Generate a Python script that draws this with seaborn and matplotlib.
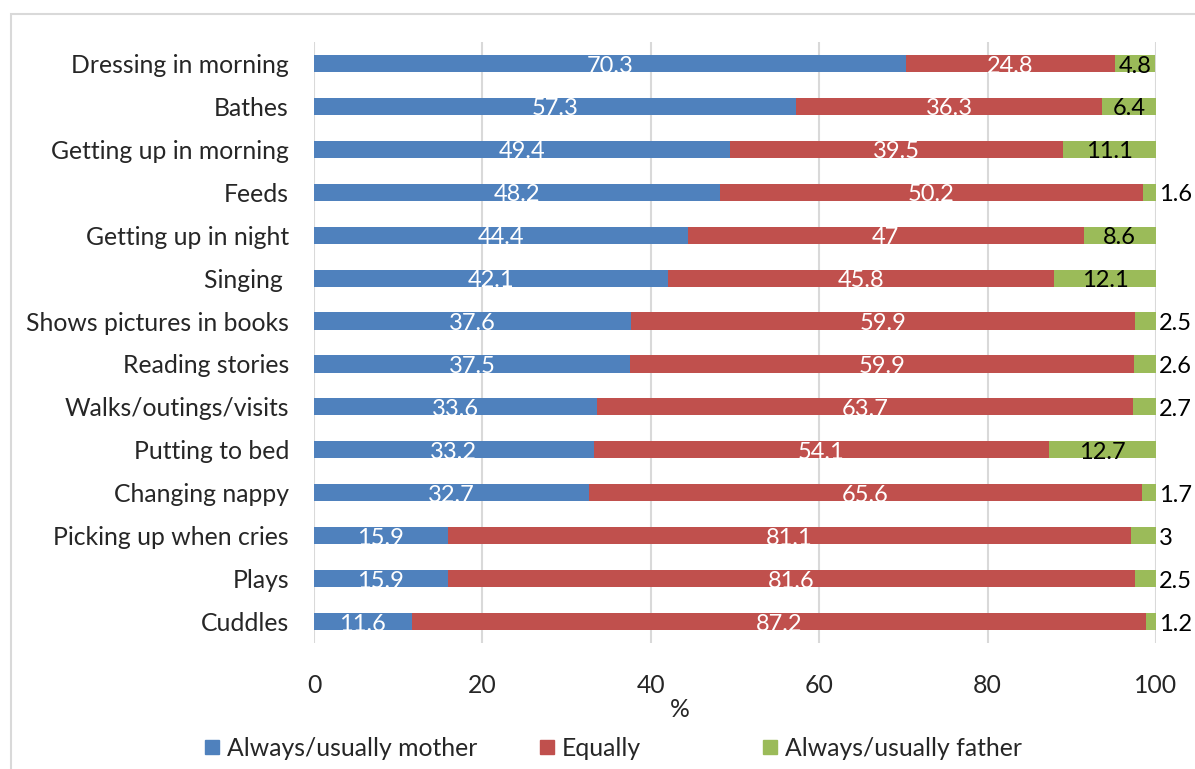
import matplotlib
matplotlib.use("Agg")
import matplotlib.pyplot as plt
from matplotlib.patches import Rectangle
from matplotlib.lines import Line2D
import seaborn as sns
import pandas as pd
import numpy as np

activities = ["Dressing in morning", "Bathes", "Getting up in morning", "Feeds",
              "Getting up in night", "Singing ", "Shows pictures in books",
              "Reading stories", "Walks/outings/visits", "Putting to bed",
              "Changing nappy", "Picking up when cries", "Plays", "Cuddles"]
mother = [70.3, 57.3, 49.4, 48.2, 44.4, 42.1, 37.6, 37.5, 33.6, 33.2, 32.7, 15.9, 15.9, 11.6]
equally = [24.8, 36.3, 39.5, 50.2, 47, 45.8, 59.9, 59.9, 63.7, 54.1, 65.6, 81.1, 81.6, 87.2]
father = [4.8, 6.4, 11.1, 1.6, 8.6, 12.1, 2.5, 2.6, 2.7, 12.7, 1.7, 3, 2.5, 1.2]
series_names = ["Always/usually mother", "Equally", "Always/usually father"]
xticks = [0, 20, 40, 60, 80, 100]

c_m, c_e, c_f = "#4F81BD", "#C0504D", "#9BBB59"

sns.set_theme(style="white")
plt.rcParams["font.family"] = ["Lato", "DejaVu Sans"]

df = pd.DataFrame({"activity": activities, "mother": mother,
                   "equally": equally, "father": father})
df["cum_e"] = df["mother"] + df["equally"]
df["cum_f"] = df["cum_e"] + df["father"]

fig = plt.figure(figsize=(11.95, 7.69), dpi=100)
ax = fig.add_axes([314/1195, 1-643/769, (1156-314)/1195, (643-42)/769])

bw = 0.4
sns.barplot(data=df, y="activity", x="cum_f", color=c_f, width=bw, ax=ax,
            orient="h", saturation=1, order=activities)
sns.barplot(data=df, y="activity", x="cum_e", color=c_e, width=bw, ax=ax,
            orient="h", saturation=1, order=activities)
sns.barplot(data=df, y="activity", x="mother", color=c_m, width=bw, ax=ax,
            orient="h", saturation=1, order=activities)
for p in ax.patches:
    p.set_edgecolor("none")

fs = 17
tfs = 17.8
for i in range(len(activities)):
    m, e, f = mother[i], equally[i], father[i]
    ax.text(m / 2, i + 0.06, f"{m:g}", color="white", ha="center", va="center", fontsize=fs)
    ax.text(m + e / 2, i + 0.06, f"{e:g}", color="white", ha="center", va="center", fontsize=fs)
    if f >= 4:
        ax.text(m + e + f / 2, i + 0.06, f"{f:g}", color="black", ha="center", va="center", fontsize=fs)
    else:
        ax.text(m + e + f + 0.4, i + 0.06, f"{f:g}", color="black", ha="left", va="center", fontsize=fs)

ax.set_xlim(0, 100)
ax.set_ylim(len(activities) - 0.5, -0.5)
ax.set_xticks(xticks)
ax.set_xticklabels([str(t) for t in xticks])
ax.grid(axis="x", color="#D9D9D9", linewidth=1.5)
ax.grid(axis="y", visible=False)
ax.set_axisbelow(True)
for s in ax.spines.values():
    s.set_visible(False)
ax.tick_params(axis="y", length=0, pad=18, labelsize=tfs)
ax.tick_params(axis="x", length=0, pad=22, labelsize=tfs)
ax.set_ylabel("")
ax.set_xlabel("%", fontsize=tfs, labelpad=2)
ax.xaxis.set_label_coords((680 - 314) / (1156 - 314), -0.092)

handle_x = [200, 535, 758]
for name, c, hx in zip(series_names, (c_m, c_e, c_f), handle_x):
    h = Line2D([], [], marker="s", linestyle="none", markersize=10,
               markerfacecolor=c, markeredgecolor=c)
    fig.legend([h], [name], loc="center left", bbox_to_anchor=(hx / 1195, 1 - 748 / 769),
               frameon=False, fontsize=tfs, handletextpad=0.1, handlelength=1.0,
               borderpad=0, borderaxespad=0)

fig.add_artist(Rectangle((11/1195, -0.1), 1.2, 1.1 - 14/769, transform=fig.transFigure,
                         fill=False, edgecolor="#D9D9D9", linewidth=1.5))

fig.savefig("out.png", dpi=100)
